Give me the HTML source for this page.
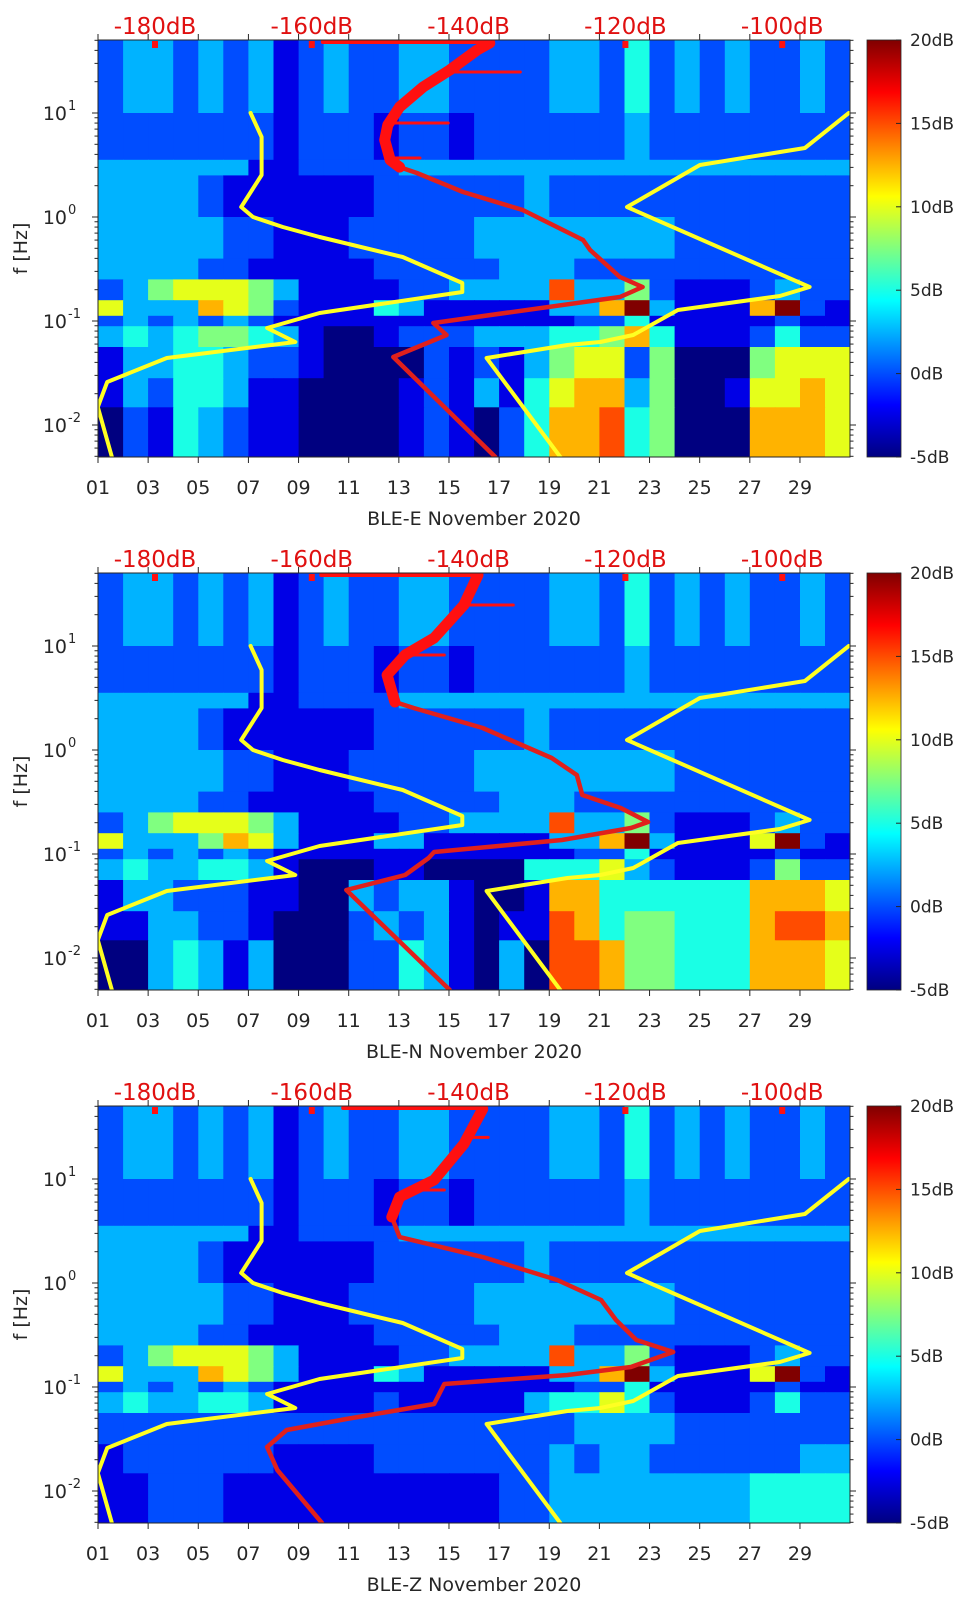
<!DOCTYPE html>
<html><head><meta charset="utf-8"><title>BLE spectrograms</title>
<style>
html,body{margin:0;padding:0;background:#fff;}
svg{display:block;font-family:"DejaVu Sans","Liberation Sans",sans-serif;}
</style></head>
<body>
<svg id="fig" width="962" height="1599" viewBox="0 0 962 1599" xmlns="http://www.w3.org/2000/svg">
<rect x="0" y="0" width="962" height="1599" fill="#fff"/>
<defs>
<linearGradient id="jetg" x1="0" y1="1" x2="0" y2="0">
<stop offset="0" stop-color="#000080"/><stop offset="0.125" stop-color="#0000ff"/>
<stop offset="0.375" stop-color="#00ffff"/><stop offset="0.625" stop-color="#ffff00"/>
<stop offset="0.875" stop-color="#ff0000"/><stop offset="1" stop-color="#800000"/>
</linearGradient>
</defs>
</svg>
<script>
// ---------- data ----------
const panelLabels = ["BLE-E November 2020","BLE-N November 2020","BLE-Z November 2020"];
const dayTicks = ["01","03","05","07","09","11","13","15","17","19","21","23","25","27","29"];
const topTickLabels = ["-180dB","-160dB","-140dB","-120dB","-100dB"];
const topTickValues = [-180,-160,-140,-120,-100];
const cbarTickLabels = ["20dB","15dB","10dB","5dB","0dB","-5dB"];
const cbarTickValues = [20,15,10,5,0,-5];
const yDecades = [1,0,-1,-2];
// band edges in log10(f)
const bandEdges = [1.7,1.0,0.55,0.4,0.0,-0.4,-0.6,-0.8,-0.95,-1.05,-1.25,-1.55,-1.83,-2.31];
// spectrogram levels 0..a (0=-5dB, a=20dB), one char per day (1..30)
const upperRows = [
 "23323 23123 22332 22233 24232 32232",
 "22222 22122 21221 22222 23222 22222",
 "33333 31122 22333 33333 33333 33333",
 "33332 11111 12222 22322 22222 22222",
 "33333 22111 22222 33333 33322 22222",
 "33332 21111 12222 23332 22222 22222",
 "23566 65311 11223 33383 35211 12322"
];
const cellsE = upperRows.concat([
 "63337 65211 14311 11133 7a311 17a21",
 "23232 32111 11111 11112 24111 11211",
 "34345 54310 01222 33344 57411 12422",
 "13344 32210 00021 21356 62500 05666",
 "13244 31100 00121 31467 73500 16676",
 "02143 21100 00121 02477 84500 07776"]);
const cellsN = upperRows.concat([
 "63335 76311 13311 11133 7a311 16a21",
 "23232 32111 11111 11112 24111 11211",
 "34334 43100 01100 00444 63211 12522",
 "13322 21100 32331 00177 44444 47776",
 "11332 21000 23231 01187 45544 47887",
 "00343 13000 22431 03088 75544 47776"]);
const cellsZ = upperRows.concat([
 "63337 65311 14311 11133 7a311 16a21",
 "23232 32111 11111 11112 24111 11211",
 "34334 43111 12111 11344 64211 12422",
 "22222 22222 22222 22223 33322 22222",
 "12222 22111 12222 22232 33222 22233",
 "11222 11111 11111 12233 33333 34444"]);
// yellow noise models (log10 f, dB)
const nlnmLogF = [1.0,0.769,0.404,0.096,0.0,-0.096,-0.192,-0.385,-0.635,-0.721,-0.923,-1.067,-1.202,-1.356,-1.587,-1.827,-2.308];
const nlnmDb   = [-167.8,-166.4,-166.4,-169.0,-167.5,-163.7,-159.0,-148.4,-140.8,-140.8,-159.0,-165.7,-162.1,-178.5,-186.1,-187.3,-185.5];
const nhnmLogF = [1.0,0.663,0.5,0.096,-0.673,-0.760,-0.894,-1.135,-1.202,-1.231,-1.356,-2.308];
const nhnmDb   = [-91.5,-97.1,-110.5,-119.8,-96.5,-100.3,-113.3,-119.0,-123.2,-127.4,-137.7,-128.3];
// red station noise curves
const redLogF_E = [1.673,1.606,1.413,1.25,1.058,0.885,0.74,0.548,0.48,0.423,0.24,0.067,-0.221,-0.317,-0.577,-0.673,-0.769,-1.019,-1.135,-1.346,-2.308];
const redDb_E   = [-137.3,-138.9,-142.4,-145.8,-148.8,-150.3,-150.7,-150.0,-148.8,-146.6,-140.7,-133.1,-125.4,-124.5,-120.7,-117.8,-120.7,-144.5,-142.8,-149.6,-136.6];
const redLogF_N = [1.683,1.394,1.077,0.913,0.721,0.462,0.404,0.212,-0.077,-0.240,-0.433,-0.558,-0.692,-0.750,-0.865,-0.981,-1.038,-1.202,-1.346,-2.308];
const redDb_N   = [-138.8,-140.6,-144.4,-148.1,-150.4,-149.4,-147.0,-138.2,-129.4,-126.2,-125.5,-120.6,-117.1,-119.3,-128.1,-144.4,-145.1,-148.1,-155.6,-142.4];
const redLogF_Z = [1.673,1.337,0.990,0.827,0.635,0.442,0.250,0.029,-0.163,-0.356,-0.548,-0.663,-0.808,-0.885,-0.971,-1.163,-1.308,-1.413,-1.577,-1.798,-2.308];
const redDb_Z   = [-138.2,-140.6,-144.4,-148.8,-149.8,-148.8,-138.2,-128.7,-123.1,-121.2,-118.6,-113.9,-119.3,-127.4,-143.1,-144.4,-155.6,-163.2,-165.7,-164.4,-158.7];
const redTopLine = [[-158.6,-137.3],[-158.8,-138.8],[-156.0,-138.2]];
const redSpikeLogF = [[1.394,0.904,0.567],[1.394,0.913],[1.40,0.894]];
const redSpikeDb   = [[-133.4,-142.6,-146.2],[-134.3,-143.1],[-137.5,-143.1]];
const redMarkDb = [-180,-160,-120,-100];

// ---------- layout ----------
const PX0 = 98, PX1 = 850, PH = 417, DAYW = 25.07;
const panelTops = [40, 573, 1106];
const TOPOFF = 73, DEC = 104;
const CBX = 867, CBW = 34;
const NS = "http://www.w3.org/2000/svg";
const svg = document.getElementById('fig');

function mk(tag, attrs, parent){
  const e = document.createElementNS(NS, tag);
  for (const k in attrs) e.setAttribute(k, attrs[k]);
  (parent||svg).appendChild(e);
  return e;
}
function jet(t){
  t = Math.max(0, Math.min(1, t));
  const c = v => Math.round(255*Math.max(0, Math.min(1, v)));
  return `rgb(${c(1.5-Math.abs(4*t-3))},${c(1.5-Math.abs(4*t-2))},${c(1.5-Math.abs(4*t-1))})`;
}
const xDay = d => PX0 + (d-1)*DAYW;
const xDb = db => 155 + (db+180)*7.84;
function interpDb(lfArr, dbArr, lf){
  for (let i=0;i<lfArr.length-1;i++){
    const a=lfArr[i], b=lfArr[i+1];
    if ((lf<=a && lf>=b)){ const t=(a-lf)/(a-b); return dbArr[i]+t*(dbArr[i+1]-dbArr[i]); }
  }
  return dbArr[0];
}

function drawPanel(p, cells, redLF, redDB){
  const top = panelTops[p], bot = top + PH;
  const yF = lf => top + TOPOFF + (1-lf)*DEC;
  const g = mk('g', {});
  
  
  const clipId = 'clip'+p;
  const cp = mk('clipPath', {id: clipId}, g);
  mk('rect', {x:PX0, y:top, width:PX1-PX0, height:PH}, cp);

  const hm = mk('g', {'clip-path':`url(#${clipId})`}, g);
  
  
  cells.forEach((row, r) => {
    const s = row.replace(/ /g,'');
    const y0 = yF(bandEdges[r]), y1 = yF(bandEdges[r+1]);
    for (let c=0;c<s.length;c++){
      const lvl = parseInt(s[c], 16) / 10;
      const cell = mk('rect', {x: xDay(c+1).toFixed(1), y: y0.toFixed(1), width: (DAYW+0.6).toFixed(1), height: (y1-y0+0.6).toFixed(1), fill: jet(lvl)}, hm);
      
      
    }
  });

  const lg = mk('g', {'clip-path':`url(#${clipId})`, fill:'none', 'stroke-linejoin':'round', 'stroke-linecap':'round'}, g);
  const path = (lfA, dbA) => lfA.map((lf,i)=>(i?'L':'M')+xDb(dbA[i]).toFixed(1)+','+yF(lf).toFixed(1)).join(' ');
  const nl = mk('path', {d: path(nlnmLogF, nlnmDb), stroke:'#ffff22', 'stroke-width':4}, lg);
  
  
  const nh = mk('path', {d: path(nhnmLogF, nhnmDb), stroke:'#ffff22', 'stroke-width':4}, lg);
  
  
  const rd = mk('path', {d: path(redLF, redDB), stroke:'#e0201c', 'stroke-width':4.5}, lg);
  
  
  const thickLF = [], thickDB = [];
  redLF.forEach((lf,i)=>{ if (lf>=0.45){ thickLF.push(lf); thickDB.push(redDB[i]); } });
  const rt = mk('path', {d: path(thickLF, thickDB), stroke:'#ff1010', 'stroke-width':11}, lg);
  
  
  redSpikeLogF[p].forEach((lf,i)=>{
    const sp = mk('line', {x1: xDb(interpDb(redLF, redDB, lf)).toFixed(1), y1: yF(lf).toFixed(1), x2: xDb(redSpikeDb[p][i]).toFixed(1), y2: yF(lf).toFixed(1), stroke:'#ff1010', 'stroke-width':3}, lg);
    
    
  });
  const tl = mk('line', {x1: xDb(redTopLine[p][0]), y1: top+2, x2: xDb(redTopLine[p][1]), y2: top+2, stroke:'#ff1010', 'stroke-width':4}, lg);
  
  
  redMarkDb.forEach(db=>{
    const m = mk('rect', {x: xDb(db)-3, y: top+1, width:6, height:7, fill:'#ff1010'}, lg);
    
    
  });

  const box = mk('rect', {x:PX0, y:top, width:PX1-PX0, height:PH, fill:'none', stroke:'#262626', 'stroke-width':1}, g);
  
  

  dayTicks.forEach(lbl=>{
    const x = xDay(parseInt(lbl,10));
    mk('line', {x1:x, y1:bot, x2:x, y2:bot+6, stroke:'#262626'}, g);
    mk('line', {x1:x, y1:top, x2:x, y2:top-6, stroke:'#262626'}, g);
    const t = mk('text', {x:x, y:bot+37, 'font-size':19, fill:'#262626', 'text-anchor':'middle'}, g);
    t.textContent = lbl;
    
    
  });
  const xl = mk('text', {x:(PX0+PX1)/2, y:bot+68, 'font-size':19, fill:'#262626', 'text-anchor':'middle'}, g);
  xl.textContent = panelLabels[p];
  
  

  topTickValues.forEach((v,i)=>{
    const t = mk('text', {x:xDb(v), y:top-6, 'font-size':23, fill:'#e01010', 'text-anchor':'middle'}, g);
    t.textContent = topTickLabels[i];
    
    
  });

  for (let d=-3; d<=1; d++){
    for (let k=1;k<=9;k++){
      const lf = d + Math.log10(k);
      if (lf < -2.31 || lf > 1.7) continue;
      const y = yF(lf), len = k===1 ? 6 : 3.5;
      mk('line', {x1:PX0-len, y1:y, x2:PX0, y2:y, stroke:'#262626'}, g);
      mk('line', {x1:PX1, y1:y, x2:PX1+len, y2:y, stroke:'#262626'}, g);
    }
  }
  yDecades.forEach(d=>{
    const y = yF(d);
    const t = mk('text', {x:67, y:y+7, 'font-size':19, fill:'#262626', 'text-anchor':'end'}, g);
    t.textContent = '10';
    
    
    const s = mk('text', {x:68, y:y-3, 'font-size':13, fill:'#262626'}, g);
    s.textContent = String(d);
    
    
  });
  const yl = mk('text', {x:0, y:0, 'font-size':19, fill:'#262626', 'text-anchor':'middle', transform:`translate(27,${top+PH/2}) rotate(-90)`}, g);
  yl.textContent = 'f [Hz]';
  
  

  const cb = mk('rect', {x:CBX, y:top, width:CBW, height:PH, fill:'url(#jetg)', stroke:'#262626', 'stroke-width':0.8}, g);
  
  
  cbarTickValues.forEach((v,i)=>{
    const y = top + (20 - v)/25*PH;
    mk('line', {x1:CBX+CBW-5, y1:y, x2:CBX+CBW, y2:y, stroke:'#262626'}, g);
    const t = mk('text', {x:CBX+CBW+9, y:y+6, 'font-size':17, fill:'#262626'}, g);
    t.textContent = cbarTickLabels[i];
    
    
  });
}

drawPanel(0, cellsE, redLogF_E, redDb_E);
drawPanel(1, cellsN, redLogF_N, redDb_N);
drawPanel(2, cellsZ, redLogF_Z, redDb_Z);
</script>
</body></html>
